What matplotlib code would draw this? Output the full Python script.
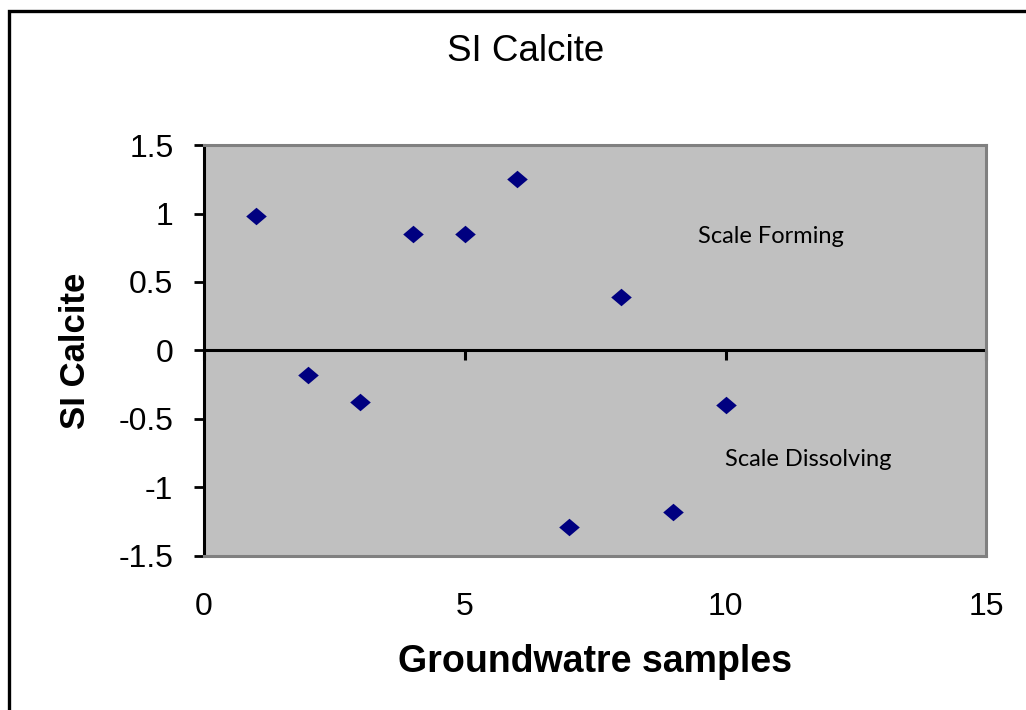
import matplotlib
matplotlib.use("Agg")
import matplotlib.pyplot as plt
from matplotlib.patches import Rectangle
from matplotlib.ticker import FuncFormatter

samples = [1, 2, 3, 4, 5, 6, 7, 8, 9, 10]
si_calcite = [0.98, -0.18, -0.38, 0.85, 0.85, 1.25, -1.29, 0.39, -1.18, -0.40]
xticks = [0, 5, 10, 15]
yticks = [-1.5, -1.0, -0.5, 0.0, 0.5, 1.0, 1.5]

plt.rcParams['font.family'] = ['Liberation Sans', 'DejaVu Sans']
plt.rcParams['axes.unicode_minus'] = False

fig = plt.figure(figsize=(10.26, 7.10), dpi=100)
fig.patches.append(Rectangle((0.009, -0.1), 1.2, 0.985 + 0.1, transform=fig.transFigure,
                             fill=False, edgecolor='black', linewidth=2.4))

ax = fig.add_axes([0.1988, 0.2176, 0.7626, 0.578])
ax.set_facecolor('#C0C0C0')

# flattened diamond like excel's marker
diamond = [(-1, 0), (0, 0.85), (1, 0), (0, -0.85), (-1, 0)]
ax.scatter(samples, si_calcite, marker=diamond, s=220, color='#000080', zorder=3, linewidths=0)

ax.set_xlim(0, 15)
ax.set_ylim(-1.5, 1.5)
ax.set_xticks(xticks)
ax.set_yticks(yticks)
fmt = FuncFormatter(lambda v, p: '%g' % v)
ax.xaxis.set_major_formatter(fmt)
ax.yaxis.set_major_formatter(fmt)
ax.tick_params(axis='x', length=0, pad=26, labelsize=23)
ax.tick_params(axis='y', direction='out', length=7, width=2, pad=15, labelsize=23)

for s in ['top', 'right', 'bottom']:
    ax.spines[s].set_color('#808080')
    ax.spines[s].set_linewidth(2.2)
ax.spines['left'].set_color('black')
ax.spines['left'].set_linewidth(2.2)

# horizontal axis drawn through zero, ticks hanging below it
ax.axhline(0, color='black', linewidth=2.2, zorder=2)
ax.plot(xticks, [0] * len(xticks), linestyle='none', marker=3, markersize=7,
        markeredgewidth=2.2, color='black', clip_on=False, zorder=2)

ax.text(10.86, 0.83, 'Scale Forming', fontsize=17, family=['Lato', 'DejaVu Sans'],
        ha='center', va='center')
ax.text(11.58, -0.80, 'Scale Dissolving', fontsize=17, family=['Lato', 'DejaVu Sans'],
        ha='center', va='center')

fig.text(0.512, 0.927, 'SI Calcite', fontsize=26.5, ha='center', va='center')
ax.set_xlabel('Groundwatre samples', fontsize=27, fontweight='bold', labelpad=16)
ax.set_ylabel('SI Calcite', fontsize=25, fontweight='bold', labelpad=19)

fig.savefig('out.png', dpi=100)
